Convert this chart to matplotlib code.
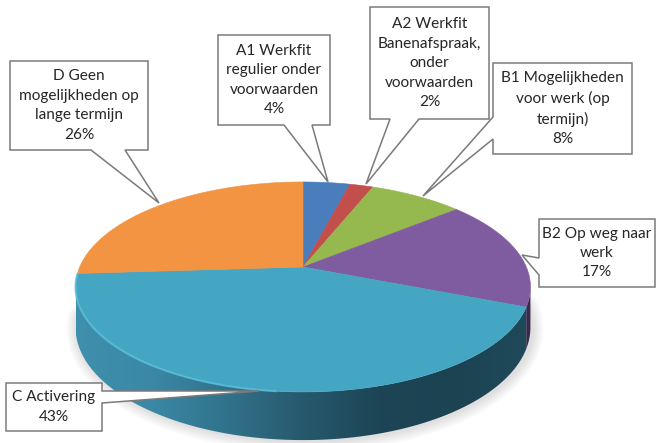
import matplotlib
matplotlib.use("Agg")
import matplotlib.pyplot as plt
from matplotlib.colors import LinearSegmentedColormap
from matplotlib.patches import Polygon
import numpy as np

plt.rcParams['font.family'] = ['Lato', 'DejaVu Sans']

labels = [
    "A1 Werkfit\nregulier onder\nvoorwaarden",
    "A2 Werkfit\nBanenafspraak,\nonder\nvoorwaarden",
    "B1 Mogelijkheden\nvoor werk (op\ntermijn)",
    "B2 Op weg naar\nwerk",
    "C Activering",
    "D Geen\nmogelijkheden op\nlange termijn",
]
values = [4, 2, 8, 17, 43, 26]
colors = ['#4a7dbb', '#c24f4c', '#95b84f', '#7f5c9f', '#45a6c4', '#f29442']

# pie geometry in pixels: centre, radii, perspective, rim depth
CX, CY = 303, 267
RX, RY = 223.3, 101.2
K = 0.19
DEPTH = 39

# label boxes: x0, y0, x1, y1, callout points (base, tip, base)
boxes = [
    (218, 35, 330, 125, [(284, 125), (328, 182), (312, 125)]),
    (370, 7, 489, 119, [(390, 119), (366, 184), (419, 119)]),
    (493, 63, 632, 154, [(493, 117), (423, 196), (493, 139)]),
    (539, 219, 655, 287, [(539, 258), (522, 255), (539, 275)]),
    (6, 383, 102, 431, [(102, 391), (259, 391), (102, 403)]),
    (10, 61, 148, 150, [(91, 150), (159, 203), (125, 150)]),
]


def project(theta, depth=0):
    # theta clockwise from the top of the pie
    x, y = np.sin(theta), np.cos(theta)
    w = 1 + K * y
    return CX + RX * x / w, CY - RY * y / w + depth / w


def arc(start, end, depth=0):
    t = np.linspace(start, end, 200)
    return project(t, depth)


def rim(start, end):
    x0, y0 = arc(start, end)
    x1, y1 = arc(start, end, DEPTH)
    return np.column_stack([np.r_[x0, x1[::-1]], np.r_[y0, y1[::-1]]])


fig = plt.figure(figsize=(6.58, 4.43), dpi=100)
ax = fig.add_axes((0, 0, 1, 1))
ax.set_xlim(0, 658)
ax.set_ylim(443, 0)
ax.axis('off')

edges = 2 * np.pi * np.cumsum([0] + values) / sum(values)
right = np.pi / 2 + np.arcsin(K)
left = 3 * np.pi / 2 - np.arcsin(K)

# soft shadow below the rim
sx, sy = arc(right - 0.2, left + 0.1, DEPTH)
for lw in range(2, 18, 2):
    ax.plot(sx + 2, sy + 1, color='#808080', alpha=0.03, lw=lw, solid_capstyle='round', zorder=1)

# rim of C with a left to right shading
shade = LinearSegmentedColormap.from_list('rim', ['#3f90ad', '#3a88a5', '#31728b', '#27596d', '#1c4555', '#1c4352', '#1f4a5a'])
rim_c = Polygon(rim(edges[4], left), closed=True, transform=ax.transData, fc='none', ec='none')
ax.add_patch(rim_c)
img = ax.imshow(np.linspace(0, 1, 256)[None, :], cmap=shade, extent=(76, 531, 443, 250), aspect='auto', zorder=2)
img.set_clip_path(rim_c)
ax.set_xlim(0, 658)
ax.set_ylim(443, 0)

# rim of B2, only a sliver shows
ax.add_patch(Polygon(rim(right, edges[4]), closed=True, fc='#3a2a4c', ec='none', zorder=2))

# slices
for i, val in enumerate(values):
    x, y = arc(edges[i], edges[i + 1])
    pts = np.column_stack([np.r_[CX, x], np.r_[CY, y]])
    ax.add_patch(Polygon(pts, closed=True, fc=colors[i], ec=colors[i], lw=0.4, zorder=3))

# light bevel along the front left edge of C
bx, by = arc(np.pi + 0.1, left + 0.12)
ax.plot(bx, by, color='#5cc0dc', lw=1.5, alpha=0.75, zorder=4)

# callouts
for (x0, y0, x1, y1, call), name, val in zip(boxes, labels, values):
    if call[0][1] == y1:
        outline = [(x0, y0), (x1, y0), (x1, y1), call[2], call[1], call[0], (x0, y1)]
    elif call[0][0] == x0:
        outline = [(x0, y0), (x1, y0), (x1, y1), (x0, y1), call[2], call[1], call[0]]
    else:
        outline = [(x0, y0), (x1, y0), call[0], call[1], call[2], (x1, y1), (x0, y1)]
    ax.add_patch(Polygon(outline, closed=True, fc='white', ec='#7a7a7a', lw=1.1, zorder=5))
    ax.text((x0 + x1) / 2, (y0 + y1) / 2, f"{name}\n{val}%", ha='center', va='center',
            fontsize=11.1, color='#262626', linespacing=1.5, zorder=6)

fig.savefig('out.png', dpi=100)
